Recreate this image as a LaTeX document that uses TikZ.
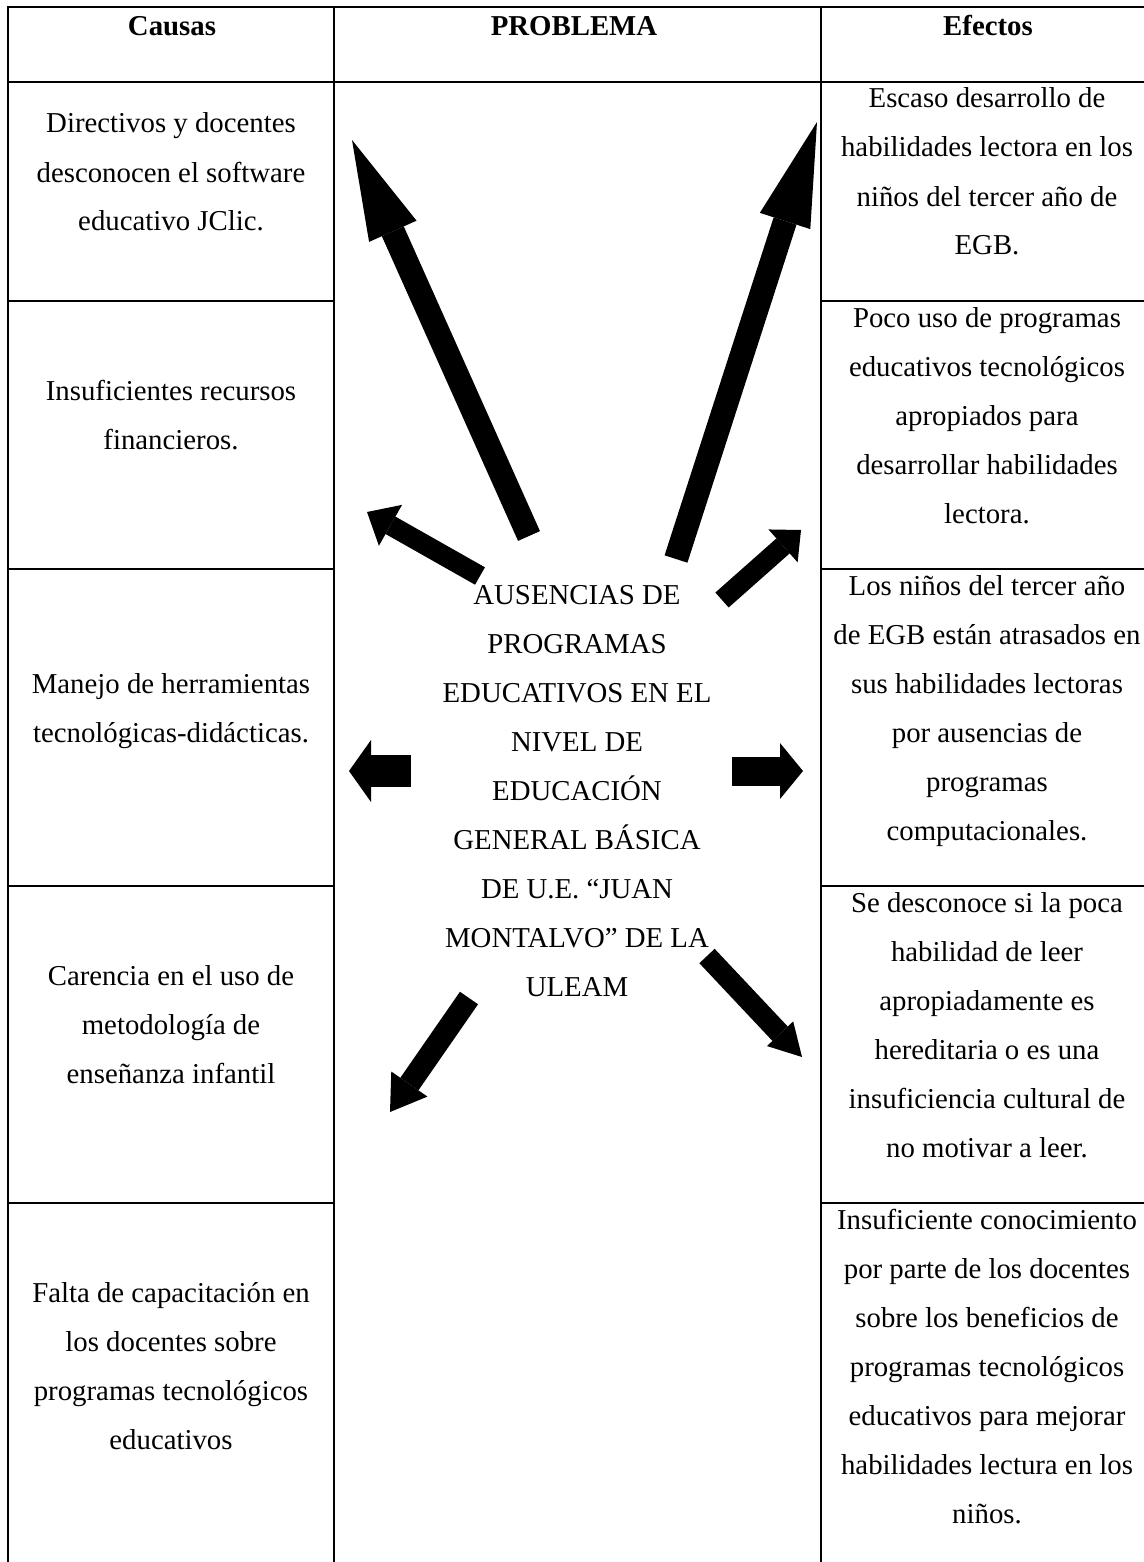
\documentclass[tikz,border=0pt]{standalone}
\usepackage{fontspec}
\setmainfont{Liberation Serif}
\usetikzlibrary{arrows.meta}

\tikzset{
  celltext/.style={align=center, anchor=base, inner sep=0pt,
    font=\fontsize{14.4pt}{24.5pt}\selectfont},
  headtext/.style={celltext, font=\fontsize{14.4pt}{24.5pt}\selectfont\bfseries},
  grid/.style={line width=1pt},
  blockarrow/.style={draw=black, line width=#1}
}

\begin{document}
\begin{tikzpicture}[x=0.5pt, y=-0.5pt]
        \useasboundingbox (0,0) rectangle (1144,1562);
        \clip (0,0) rectangle (1144,1562);

        % Table frame (right and bottom edges run off the page)
        \draw[grid] (8,7) rectangle (1151,1570);
        \draw[grid] (8,82) -- (1151,82);

        % Column lines
        \draw[grid] (334,7) -- (334,1570);
        \draw[grid] (821,7) -- (821,1570);

        % Row lines, causes column
        \draw[grid] (8,301) -- (334,301);
        \draw[grid] (8,569) -- (334,569);
        \draw[grid] (8,886) -- (334,886);
        \draw[grid] (8,1203) -- (334,1203);

        % Row lines, effects column
        \draw[grid] (821,301) -- (1151,301);
        \draw[grid] (821,569) -- (1151,569);
        \draw[grid] (821,886) -- (1151,886);
        \draw[grid] (821,1203) -- (1151,1203);

        % Header
        \node[headtext] (causas) at (172,36) {Causas};
        \node[headtext] (problema) at (574,36) {PROBLEMA};
        \node[headtext] (efectos) at (988,36) {Efectos};

        % Causes (placed at the baseline of their last line)
        \node[celltext] (causa1) at (171,231) {Directivos y docentes\\desconocen el software\\educativo JClic.};
        \node[celltext] (causa2) at (171,449.5) {Insuficientes recursos\\financieros.};
        \node[celltext] (causa3) at (171,742) {Manejo de herramientas\\tecnológicas-didácticas.};
        \node[celltext] (causa4) at (171,1083.5) {Carencia en el uso de\\metodología de\\enseñanza infantil};
        \node[celltext] (causa5) at (171,1449.5) {Falta de capacitación en\\los docentes sobre\\programas tecnológicos\\educativos};

        % Problem
        \node[celltext] (problem) at (577,996) {AUSENCIAS DE\\PROGRAMAS\\EDUCATIVOS EN EL\\NIVEL DE\\EDUCACIÓN\\GENERAL BÁSICA\\DE U.E. “JUAN\\MONTALVO” DE LA\\ULEAM};

        % Effects
        \node[celltext] (efecto1) at (987,255) {Escaso desarrollo de\\habilidades lectora en los\\niños del tercer año de\\EGB.};
        \node[celltext] (efecto2) at (987,523) {Poco uso de programas\\educativos tecnológicos\\apropiados para\\desarrollar habilidades\\lectora.};
        \node[celltext] (efecto3) at (987,840) {Los niños del tercer año\\de EGB están atrasados en\\sus habilidades lectoras\\por ausencias de\\programas\\computacionales.};
        \node[celltext] (efecto4) at (987,1157) {Se desconoce si la poca\\habilidad de leer\\apropiadamente es\\hereditaria o es una\\insuficiencia cultural de\\no motivar a leer.};
        \node[celltext] (efecto5) at (987,1523) {Insuficiente conocimiento\\por parte de los docentes\\sobre los beneficios de\\programas tecnológicos\\educativos para mejorar\\habilidades lectura en los\\niños.};

        % Arrow ends
        \coordinate (c1start) at (529,536);   \coordinate (c1tip) at (352,140);
        \coordinate (c2start) at (480,576);   \coordinate (c2tip) at (367,512);
        \coordinate (c3start) at (411,771);   \coordinate (c3tip) at (349,771);
        \coordinate (c4start) at (469,998);   \coordinate (c4tip) at (390,1112);
        \coordinate (e1start) at (676,559);   \coordinate (e1tip) at (817,122);
        \coordinate (e2start) at (722,600);   \coordinate (e2tip) at (801,530);
        \coordinate (e3start) at (732,771);   \coordinate (e3tip) at (803,771);
        \coordinate (e4start) at (707,956);   \coordinate (e4tip) at (802,1057);

        % Arrows towards the causes
        \draw[blockarrow=12pt, -{Triangle[length=50pt, width=26pt, line width=0pt]}] (c1start) -- (c1tip);
        \draw[blockarrow=10pt, -{Triangle[length=13.5pt, width=23.5pt, line width=0pt]}] (c2start) -- (c2tip);
        \draw[blockarrow=16pt, -{Triangle[length=11pt, width=31pt, line width=0pt]}] (c3start) -- (c3tip);
        \draw[blockarrow=11pt, -{Triangle[length=17pt, width=22pt, line width=0pt]}] (c4start) -- (c4tip);

        % Arrows towards the effects
        \draw[blockarrow=12pt, -{Triangle[length=52pt, width=26.5pt, line width=0pt]}] (e1start) -- (e1tip);
        \draw[blockarrow=10pt, -{Triangle[length=12pt, width=22pt, line width=0pt]}] (e2start) -- (e2tip);
        \draw[blockarrow=14.5pt, -{Triangle[length=11.5pt, width=28pt, line width=0pt]}] (e3start) -- (e3tip);
        \draw[blockarrow=10.5pt, -{Triangle[length=16pt, width=18pt, line width=0pt]}] (e4start) -- (e4tip);
\end{tikzpicture}
\end{document}
